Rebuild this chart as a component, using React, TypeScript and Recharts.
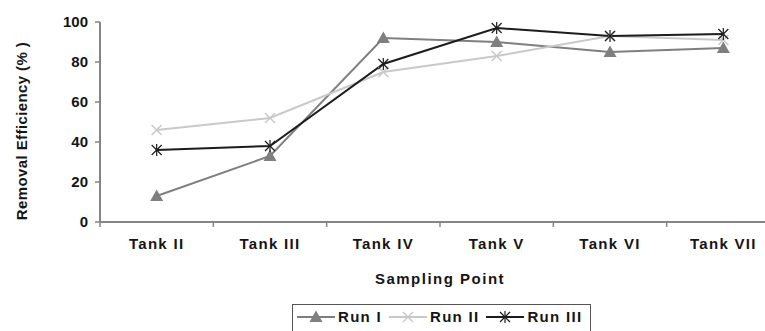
import React from 'react';
import { LineChart, Line, XAxis, YAxis, Legend, Label } from 'recharts';

const categories = ['Tank II', 'Tank III', 'Tank IV', 'Tank V', 'Tank VI', 'Tank VII'];
const runI = [13, 33, 92, 90, 85, 87];
const runII = [46, 52, 75, 83, 93, 91];
const runIII = [36, 38, 79, 97, 93, 94];
const yTicks = [0, 20, 40, 60, 80, 100];
const seriesNames = ['Run I', 'Run II', 'Run III'];

const boundaryTicks = categories.map((_, i) => i).concat(categories.length);
const centerTicks = categories.map((_, i) => i + 0.5);

const data = categories.map((name, i) => ({
  pos: i + 0.5,
  name,
  runI: runI[i],
  runII: runII[i],
  runIII: runIII[i],
}));

const FONT = '"Liberation Sans", Arial, sans-serif';
const C1 = '#7f7f7f';
const C2 = '#c9c9c9';
const C3 = '#1c1c1c';
const AXIS = '#858585';

const Tri = ({ cx, cy }: any) => (
  <path d={`M${cx},${cy - 6.5} L${cx + 6.5},${cy + 5} L${cx - 6.5},${cy + 5} Z`} fill={C1} />
);
const XMark = ({ cx, cy }: any) => (
  <g stroke={C2} strokeWidth={1.5}>
    <line x1={cx - 5} y1={cy - 5} x2={cx + 5} y2={cy + 5} />
    <line x1={cx - 5} y1={cy + 5} x2={cx + 5} y2={cy - 5} />
  </g>
);
const Star = ({ cx, cy }: any) => (
  <g stroke={C3} strokeWidth={1.2}>
    <line x1={cx - 5} y1={cy - 5} x2={cx + 5} y2={cy + 5} />
    <line x1={cx - 5} y1={cy + 5} x2={cx + 5} y2={cy - 5} />
    <line x1={cx} y1={cy - 6} x2={cx} y2={cy + 6} />
  </g>
);

const symbolFor = (i: number) => {
  const color = [C1, C2, C3][i];
  const cx = 19;
  const cy = 8;
  return (
    <svg width={38} height={16} style={{ display: 'block' }}>
      <line x1={0} y1={cy} x2={38} y2={cy} stroke={color} strokeWidth={2} />
      {i === 0 && <Tri cx={cx} cy={cy} />}
      {i === 1 && <XMark cx={cx} cy={cy} />}
      {i === 2 && <Star cx={cx} cy={cy} />}
    </svg>
  );
};

const LegendBox = () => (
  <div style={{ position: 'relative', width: '100%', height: 43 }}>
    <div
      style={{
        position: 'absolute',
        left: 292,
        top: 16,
        width: 299,
        height: 30,
        border: '1px solid #555',
        boxSizing: 'border-box',
        display: 'flex',
        alignItems: 'flex-start',
        paddingLeft: 4,
        paddingTop: 4,
        background: '#fff',
      }}
    >
      {seriesNames.map((n, i) => (
        <div key={n} style={{ display: 'flex', alignItems: 'center', marginRight: i === 2 ? 0 : 7 }}>
          {symbolFor(i)}
          <span
            style={{
              fontFamily: FONT,
              fontWeight: 'bold',
              fontSize: 15,
              letterSpacing: 1.3,
              color: '#151515',
              marginLeft: 3,
              lineHeight: '16px',
            }}
          >
            {n}
          </span>
        </div>
      ))}
    </div>
  </div>
);

const YLabel = (props: any) => {
  const vb = props.viewBox || {};
  const x = vb.x + 21;
  const y = vb.y + vb.height / 2 + 9;
  return (
    <text
      x={x}
      y={y}
      transform={`rotate(-90, ${x}, ${y})`}
      textAnchor="middle"
      dominantBaseline="central"
      fontFamily={FONT}
      fontWeight="bold"
      fontSize={15}
      letterSpacing={0.4}
      fill="#151515"
    >
      Removal Efficiency (% )
    </text>
  );
};

export default function App() {
  const tickStyle = { fontFamily: FONT, fontWeight: 'bold' as const, fontSize: 15, fill: '#151515' };
  return (
    <div
      style={{
        position: 'absolute',
        left: 0,
        top: 0,
        width: 765,
        height: 331,
        overflow: 'hidden',
        background: '#fff',
      }}
    >
      <LineChart width={790} height={331} data={data} margin={{ top: 22, right: 10, bottom: 0, left: 0 }}>
        <XAxis
          xAxisId={0}
          dataKey="pos"
          type="number"
          domain={[0, categories.length]}
          ticks={boundaryTicks}
          tickFormatter={() => ''}
          tickSize={5}
          height={6}
          axisLine={{ stroke: AXIS, strokeWidth: 2 }}
          tickLine={{ stroke: AXIS, strokeWidth: 1.5 }}
          interval={0}
        />
        <XAxis
          xAxisId={1}
          dataKey="pos"
          type="number"
          domain={[0, categories.length]}
          ticks={centerTicks}
          tickFormatter={(v: number) => categories[Math.floor(v)]}
          axisLine={false}
          tickLine={false}
          tickSize={0}
          tickMargin={10}
          height={60}
          interval={0}
          tick={{ ...tickStyle, letterSpacing: 1.3 }}
        >
          <Label
            value="Sampling Point"
            position="insideBottom"
            offset={4}
            style={{ fontFamily: FONT, fontWeight: 'bold', fontSize: 15, letterSpacing: 1.5, fill: '#151515' }}
          />
        </XAxis>
        <YAxis
          domain={[0, 100]}
          ticks={yTicks}
          width={100}
          tickSize={5}
          tickMargin={7}
          axisLine={{ stroke: AXIS, strokeWidth: 2 }}
          tickLine={{ stroke: AXIS, strokeWidth: 1.5 }}
          tick={tickStyle}
          interval={0}
        >
          <Label content={<YLabel />} />
        </YAxis>
        <Legend verticalAlign="bottom" content={() => <LegendBox />} />
        <Line
          xAxisId={0}
          dataKey="runI"
          name="Run I"
          stroke={C1}
          strokeWidth={2}
          isAnimationActive={false}
          dot={(p: any) => <Tri key={`a${p.index}`} {...p} />}
          activeDot={false}
        />
        <Line
          xAxisId={0}
          dataKey="runII"
          name="Run II"
          stroke={C2}
          strokeWidth={2}
          isAnimationActive={false}
          dot={(p: any) => <XMark key={`b${p.index}`} {...p} />}
          activeDot={false}
        />
        <Line
          xAxisId={0}
          dataKey="runIII"
          name="Run III"
          stroke={C3}
          strokeWidth={2}
          isAnimationActive={false}
          dot={(p: any) => <Star key={`c${p.index}`} {...p} />}
          activeDot={false}
        />
      </LineChart>
    </div>
  );
}
